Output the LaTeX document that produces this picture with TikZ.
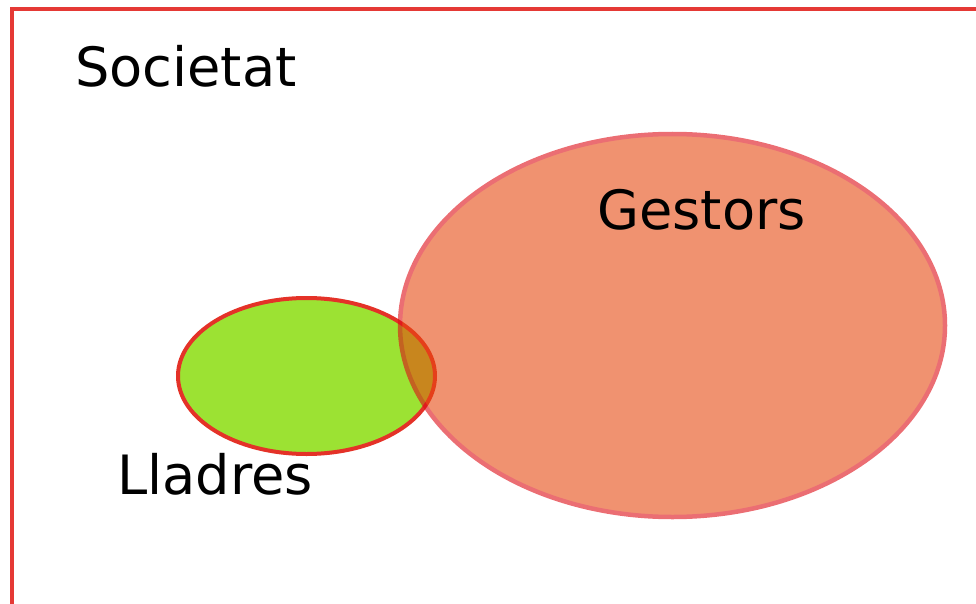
\documentclass[tikz,border=0pt]{standalone}
\usepackage{fontspec}
\setmainfont{DejaVu Sans}
\definecolor{frame}{RGB}{229,57,53}
\definecolor{lgreen}{RGB}{156,226,51}
\definecolor{gborder}{RGB}{228,50,40}
\definecolor{ofill}{RGB}{230,73,17}
\definecolor{oborder}{RGB}{222,13,22}
\tikzset{
  lbl/.style={anchor=base west, inner sep=0pt, font=\fontsize{54.2}{60}\selectfont},
}
\begin{document}
\begin{tikzpicture}[x=1pt,y=-1pt]
\useasboundingbox (0,0) rectangle (976,604);
\clip (0,0) rectangle (976,604);
\draw[frame, line width=4pt] (12,9) rectangle (990,620);
\fill[lgreen] (306.5,376) ellipse [x radius=128.5, y radius=78];
\draw[gborder, line width=4pt] (306.5,376) ellipse [x radius=128.5, y radius=78];
\begin{scope}[transparency group, opacity=0.6]
\fill[ofill] (672.5,325.5) ellipse [x radius=272.5, y radius=191.5];
\draw[oborder, line width=4.5pt] (672.5,325.5) ellipse [x radius=272.5, y radius=191.5];
\end{scope}
\node[lbl] (soc) at (75,87) {Societat};
\node[lbl] (ges) at (597,229) {Gestors};
\node[lbl] (lla) at (117,494) {Lladres};
\end{tikzpicture}
\end{document}
